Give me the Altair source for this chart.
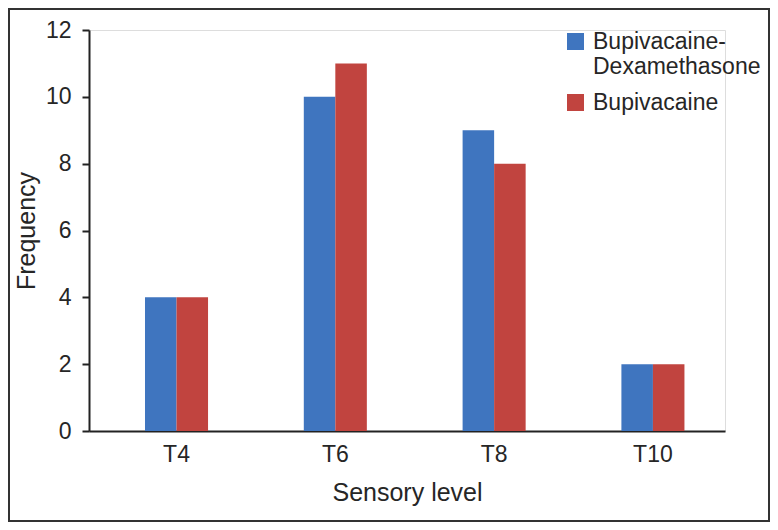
import altair as alt
import pandas as pd

levels = ["T4", "T6", "T8", "T10"]
series = ["Bupivacaine-Dexamethasone", "Bupivacaine"]
bup_dex = [4, 10, 9, 2]
bup = [4, 11, 8, 2]
colors = ["#3F75BF", "#C1443F"]

rows = []
for i, lv in enumerate(levels):
    rows.append({"level": lv, "group": series[0], "freq": bup_dex[i]})
    rows.append({"level": lv, "group": series[1], "freq": bup[i]})
df = pd.DataFrame(rows)

W, H = 636, 401
PL, PT = 81, 22
TOTW, TOTH = 762, 514
FONT = "Liberation Sans"
TXT = "#262626"

bars = alt.Chart(df).mark_bar().encode(
    x=alt.X("level:N", sort=levels,
            scale=alt.Scale(paddingInner=0.603, paddingOuter=0.304, align=0.58),
            axis=alt.Axis(title="Sensory level", labelAngle=0, ticks=False, tickSize=0,
                          labelPadding=12, titlePadding=14, domainColor="#222",
                          domainWidth=2, labelFontSize=23, titleFontSize=25,
                          labelColor=TXT, titleColor=TXT, labelFont=FONT, titleFont=FONT,
                          titleFontWeight="normal")),
    xOffset=alt.XOffset("group:N", sort=series,
                        scale=alt.Scale(paddingInner=0, paddingOuter=0)),
    y=alt.Y("freq:Q", scale=alt.Scale(domain=[0, 12], nice=False),
            axis=alt.Axis(title="Frequency", values=[0, 2, 4, 6, 8, 10, 12], grid=False,
                          tickSize=7, tickWidth=2, tickColor="#222", domainColor="#222",
                          domainWidth=2, labelPadding=11, titlePadding=6,
                          labelFontSize=23, titleFontSize=25, labelColor=TXT,
                          titleColor=TXT, labelFont=FONT, titleFont=FONT,
                          titleFontWeight="normal")),
    color=alt.Color("group:N", sort=series,
                    scale=alt.Scale(domain=series, range=colors),
                    legend=alt.Legend(title=None, orient="none", legendX=475, legendY=0,
                                      symbolType="square", symbolSize=289,
                                      symbolStrokeWidth=0, labelFontSize=23,
                                      labelFont=FONT, labelColor=TXT, rowPadding=12,
                                      labelOffset=6, labelLimit=300,
                                      labelExpr="datum.label == 'Bupivacaine-Dexamethasone' ? ['Bupivacaine-', 'Dexamethasone'] : datum.label")),
)

frame_df = pd.DataFrame({"k": [0]})
frame = alt.Chart(frame_df).mark_rect(fill="transparent", stroke="#333", strokeWidth=2).encode(
    x=alt.value(-PL + 1), x2=alt.value(TOTW - PL - 1),
    y=alt.value(-PT + 1), y2=alt.value(TOTH - PT - 1),
)

chart = alt.layer(bars, frame).properties(
    width=W, height=H,
    autosize=alt.AutoSizeParams(type="none"),
    padding={"left": PL, "top": PT, "right": TOTW - PL - W, "bottom": TOTH - PT - H},
).configure_view(stroke=None).configure(background="white")

chart.save("out.html", embed_options={"renderer": "svg", "actions": False})
